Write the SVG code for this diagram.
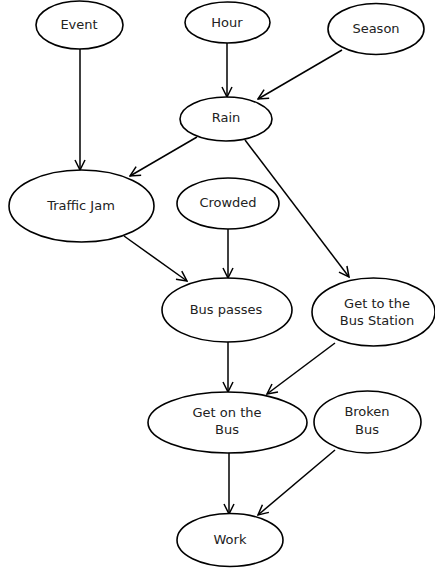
<svg xmlns="http://www.w3.org/2000/svg" width="435" height="570" viewBox="0 0 435 570">
<defs>
<marker id="arr" viewBox="0 0 12 12" refX="11" refY="6" markerWidth="12" markerHeight="12" markerUnits="userSpaceOnUse" orient="auto">
<path d="M1,1 L11,6 L1,11" fill="none" stroke="#000" stroke-width="1.5"/>
</marker>
<style>
.n ellipse{fill:#fff;stroke:#000;stroke-width:1.6}
.n text{font-family:"DejaVu Sans",sans-serif;font-size:13px;fill:#222;text-anchor:middle}
.e line{stroke:#000;stroke-width:1.5;marker-end:url(#arr)}
</style>
</defs>
<rect width="435" height="570" fill="#fff"/>
<g id="edges" class="e">
<line x1="80" y1="49" x2="80" y2="170"/>
<line x1="227" y1="43" x2="227" y2="97"/>
<line x1="342" y1="50" x2="258" y2="99"/>
<line x1="197" y1="137" x2="130" y2="176"/>
<line x1="245" y1="140" x2="349" y2="277"/>
<line x1="124" y1="236" x2="187" y2="281"/>
<line x1="228" y1="229" x2="228" y2="278"/>
<line x1="228" y1="342" x2="228" y2="392"/>
<line x1="335" y1="343" x2="267" y2="394"/>
<line x1="229" y1="453" x2="229" y2="514"/>
<line x1="335" y1="450" x2="258" y2="515"/>
</g>
<g id="event" class="n"><ellipse cx="79.5" cy="25" rx="43.5" ry="24"/><text x="79" y="29">Event</text></g>
<g id="hour" class="n"><ellipse cx="227.5" cy="22.5" rx="42.5" ry="20.5"/><text x="227" y="27">Hour</text></g>
<g id="season" class="n"><ellipse cx="376" cy="29" rx="48" ry="25.5"/><text x="376" y="33">Season</text></g>
<g id="rain" class="n"><ellipse cx="226" cy="119" rx="46" ry="22"/><text x="226" y="122">Rain</text></g>
<g id="trafficjam" class="n"><ellipse cx="81.5" cy="206" rx="72.5" ry="36"/><text x="81" y="210">Traffic Jam</text></g>
<g id="crowded" class="n"><ellipse cx="228" cy="203.5" rx="51" ry="25.5"/><text x="228" y="207">Crowded</text></g>
<g id="buspasses" class="n"><ellipse cx="227" cy="310" rx="65" ry="32"/><text x="226" y="314">Bus passes</text></g>
<g id="getstation" class="n"><ellipse cx="373.5" cy="312" rx="61.5" ry="34"/><text x="377" y="308">Get to the</text><text x="377" y="325">Bus Station</text></g>
<g id="getonbus" class="n"><ellipse cx="227.5" cy="422.5" rx="79.5" ry="30.5"/><text x="227" y="417">Get on the</text><text x="227" y="434">Bus</text></g>
<g id="brokenbus" class="n"><ellipse cx="367.5" cy="422" rx="53.5" ry="31"/><text x="367" y="416">Broken</text><text x="367" y="434">Bus</text></g>
<g id="work" class="n"><ellipse cx="230" cy="540" rx="53" ry="26.5"/><text x="230" y="544">Work</text></g>
</svg>
